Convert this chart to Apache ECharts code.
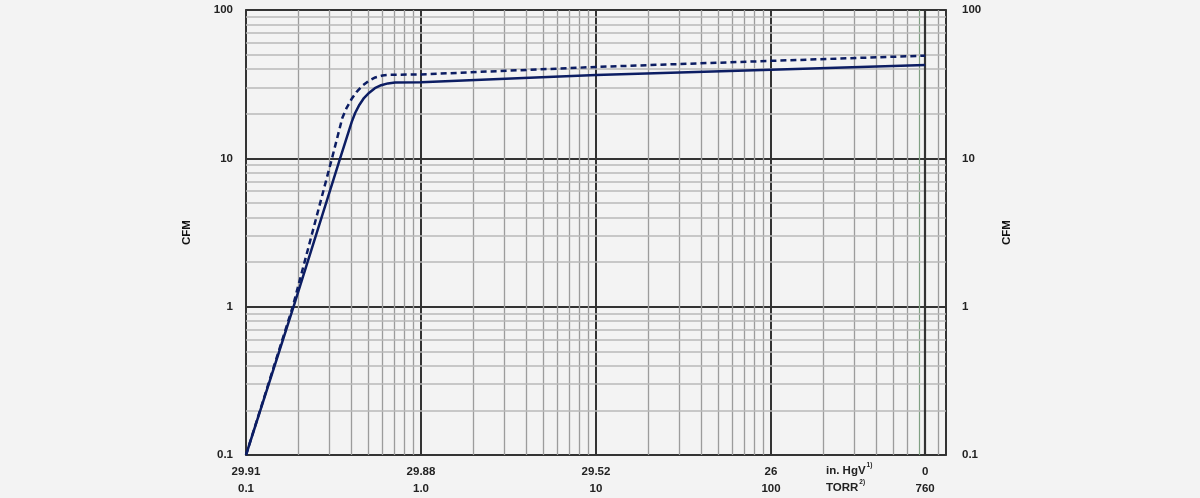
<!DOCTYPE html>
<html>
<head>
<meta charset="utf-8">
<script src="https://cdn.jsdelivr.net/npm/echarts@6/dist/echarts.min.js"></script>
<style>
  html, body { margin: 0; padding: 0; background: #f3f3f3; }
  #chart { width: 1200px; height: 498px; }
</style>
</head>
<body>
<div id="chart"></div>
<script>
// ---- data (TORR on x, CFM on y) ----
const torrSolid  = [0.1, 0.187, 0.345, 0.402, 0.421, 0.445, 0.472, 0.506, 0.545, 0.592, 0.647, 0.711, 1, 10, 100, 760];
const cfmSolid   = [0.1, 1.0,   10,    17.6,  20.3,  23.0,  25.5,  27.7,  29.7,  31.1,  32.0,  32.4,  32.6, 36.5, 39.5, 42.6];
const torrDashed = [0.1, 0.185, 0.31, 0.355, 0.376, 0.401, 0.429, 0.463, 0.503, 0.548, 0.602, 0.664, 1, 10, 100, 760];
const cfmDashed  = [0.1, 1.0,   10,   18.7,  21.9,  25.1,  28.1,  30.9,  33.3,  35.1,  36.2,  36.6,  36.8, 41.3, 45.4, 49.2];

// ---- tick labels ----
const xTickValues = [0.1, 1, 10, 100, 760];
const hgLabels    = ['29.91', '29.88', '29.52', '26', '0'];
const torrLabels  = ['0.1', '1.0', '10', '100', '760'];
const yTickLabels = ['0.1', '1', '10', '100'];

// ---- grid line values ----
const xMajorExtra = [760];
const xMinorGreen = [700];
const xMinor = [0.2,0.3,0.4,0.5,0.6,0.7,0.8,0.9, 2,3,4,5,6,7,8,9, 20,30,40,50,60,70,80,90, 200,300,400,500,600,900];
const yMinor = [0.2,0.3,0.4,0.5,0.6,0.7,0.8,0.9, 2,3,4,5,6,7,8,9, 20,30,40,50,60,70,80,90];

const FONT = "'Liberation Sans', Arial, sans-serif";
const NAVY = '#0c1d63';

const zip = (xs, ys) => xs.map((x, i) => [x, ys[i]]);

const chart = echarts.init(document.getElementById('chart'), null, { renderer: 'canvas' });

const labelStyle = { fontFamily: FONT, fontSize: 11.5, fontWeight: 'bold', color: '#222' };

const option = {
  backgroundColor: '#f3f3f3',
  animation: false,
  grid: {
    left: 246, right: 254, top: 10, bottom: 43,
    containLabel: false,
    outerBoundsMode: 'none',
    show: true,
    borderColor: '#4a4a4a',
    borderWidth: 2,
    backgroundColor: 'transparent'
  },
  xAxis: {
    type: 'log',
    logBase: 10,
    min: 0.1,
    max: 1000,
    axisLine: { show: false },
    axisTick: { show: false },
    splitLine: { show: true, lineStyle: { color: '#333', width: 2 } },
    axisLabel: Object.assign({}, labelStyle, {
      customValues: xTickValues,
      margin: 8,
      lineHeight: 17,
      formatter: function (v) {
        let idx = 0, best = Infinity;
        xTickValues.forEach((t, i) => {
          const d = Math.abs(Math.log10(t) - Math.log10(v));
          if (d < best) { best = d; idx = i; }
        });
        return hgLabels[idx] + '\n' + torrLabels[idx];
      }
    })
  },
  yAxis: [
    {
      type: 'log',
      logBase: 10,
      min: 0.1,
      max: 100,
      position: 'left',
      name: 'CFM',
      nameLocation: 'middle',
      nameRotate: 90,
      nameGap: 53,
      nameTextStyle: { fontFamily: FONT, fontSize: 11.5, fontWeight: 'bold', color: '#111' },
      axisLine: { show: false },
      axisTick: { show: false },
      splitLine: { show: true, lineStyle: { color: '#333', width: 2 } },
      axisLabel: Object.assign({}, labelStyle, {
        margin: 13,
        formatter: v => yTickLabels[Math.round(Math.log10(v)) + 1]
      })
    },
    {
      type: 'log',
      logBase: 10,
      min: 0.1,
      max: 100,
      position: 'right',
      name: 'CFM',
      nameLocation: 'middle',
      nameRotate: 90,
      nameGap: 55,
      nameTextStyle: { fontFamily: FONT, fontSize: 11.5, fontWeight: 'bold', color: '#111' },
      axisLine: { show: false },
      axisTick: { show: false },
      splitLine: { show: false },
      axisLabel: Object.assign({}, labelStyle, {
        margin: 16,
        formatter: v => yTickLabels[Math.round(Math.log10(v)) + 1]
      })
    }
  ],
  graphic: [
    {
      type: 'text',
      left: 826,
      top: 462,
      style: {
        text: '{a|in. HgV}{s|1)}\n{a|TORR}{s|2)}',
        rich: {
          a: { fontFamily: FONT, fontSize: 11.5, fontWeight: 'bold', fill: '#222', lineHeight: 17 },
          s: { fontFamily: FONT, fontSize: 6.5, fontWeight: 'bold', fill: '#222', verticalAlign: 'top', padding: [0, 0, 6, 1], lineHeight: 17 }
        }
      }
    }
  ],
  series: [
    {
      name: 'grid-minor',
      type: 'line',
      data: [],
      silent: true,
      z: 1,
      markLine: {
        silent: true,
        symbol: 'none',
        label: { show: false },
        animation: false,
        data: [
          ...xMinor.map(v => ({ xAxis: v, lineStyle: { color: '#9c9c9c', width: 1.3, type: 'solid' } })),
          ...xMinorGreen.map(v => ({ xAxis: v, lineStyle: { color: '#80a083', width: 1.2, type: 'solid' } })),
          ...yMinor.map(v => ({ yAxis: v, lineStyle: { color: '#b8b8b8', width: 1.5, type: 'solid' } })),
          ...xMajorExtra.map(v => ({ xAxis: v, lineStyle: { color: '#333', width: 2.2, type: 'solid' } }))
        ]
      }
    },
    {
      name: 'solid',
      type: 'line',
      data: zip(torrSolid, cfmSolid),
      showSymbol: false,
      smooth: false,
      z: 5,
      lineStyle: { color: NAVY, width: 2.5, type: 'solid', join: 'round' }
    },
    {
      name: 'dashed',
      type: 'line',
      data: zip(torrDashed, cfmDashed),
      showSymbol: false,
      smooth: false,
      z: 5,
      lineStyle: { color: NAVY, width: 2.5, type: [6, 4], join: 'round' }
    }
  ]
};

chart.setOption(option);
</script>
</body>
</html>
